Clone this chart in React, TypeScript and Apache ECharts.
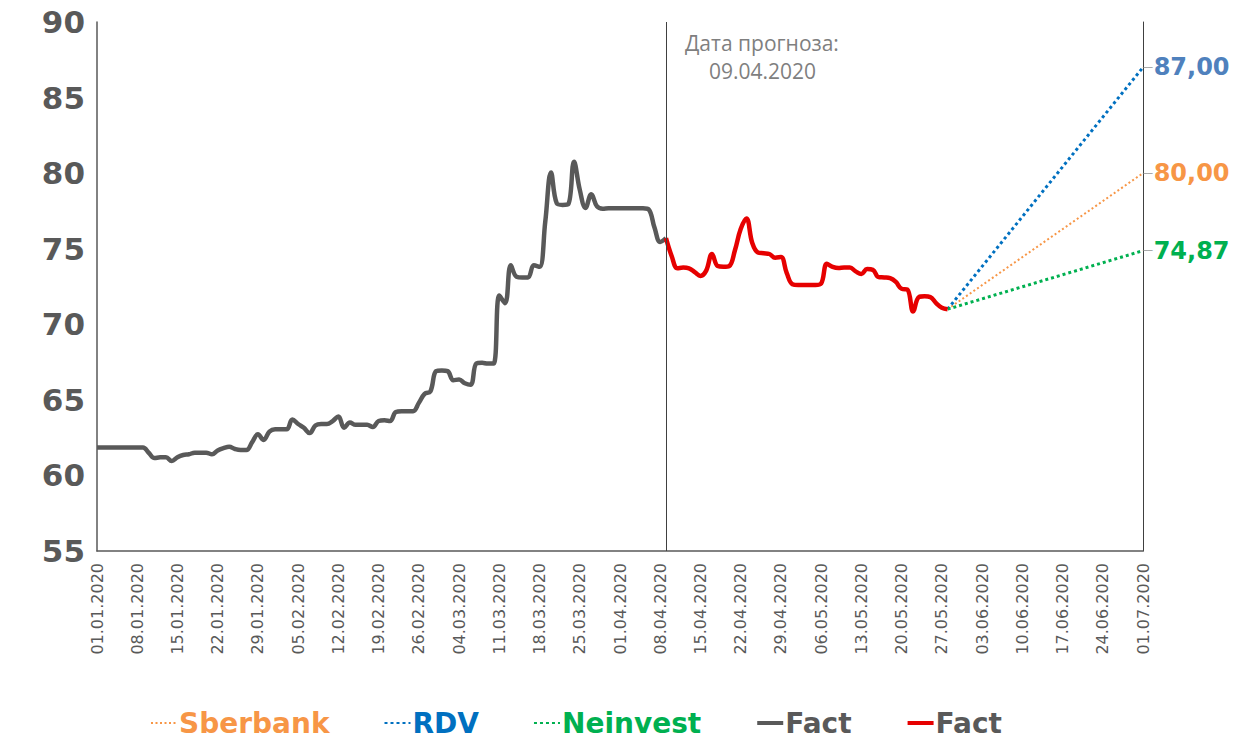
import React, { useEffect, useRef } from 'react';
import * as echarts from 'echarts';

// ---- categories: every day from 01.01.2020 to 01.07.2020 ----
const START_YEAR = 2020;
const DAY_COUNT = 183;
const dates: string[] = [];
for (let i = 0; i < DAY_COUNT; i++) {
  const d = new Date(Date.UTC(START_YEAR, 0, 1 + i));
  const dd = String(d.getUTCDate()).padStart(2, '0');
  const mm = String(d.getUTCMonth() + 1).padStart(2, '0');
  dates.push(`${dd}.${mm}.${d.getUTCFullYear()}`);
}

// ---- fact before forecast date (01.01 .. 09.04), one value per day ----
const factBefore: number[] = [
  61.85, 61.85, 61.85, 61.85, 61.85, 61.85, 61.85, 61.85, 61.85, 61.5,
  61.15, 61.2, 61.2, 60.95, 61.2, 61.35, 61.4, 61.5, 61.5, 61.5,
  61.4, 61.65, 61.8, 61.9, 61.75, 61.68, 61.68, 62.2, 62.72, 62.35,
  62.9, 63.05, 63.05, 63.05, 63.7, 63.4, 63.15, 62.8, 63.3, 63.4,
  63.4, 63.6, 63.9, 63.15, 63.5, 63.35, 63.35, 63.35, 63.2, 63.6,
  63.65, 63.6, 64.2, 64.25, 64.25, 64.25, 64.8, 65.4, 65.55, 66.9,
  66.95, 66.9, 66.3, 66.35, 66.1, 66.0, 67.4, 67.45, 67.4, 67.4,
  71.9, 71.4, 73.9, 73.15, 73.1, 73.1, 73.9, 73.8, 76.8, 80.05,
  78.0, 77.9, 77.95, 80.75, 78.9, 77.7, 78.6, 77.8, 77.65, 77.68,
  77.68, 77.68, 77.68, 77.68, 77.68, 77.68, 77.6, 76.4, 75.45, 75.7,
];

// ---- fact after forecast date (09.04 .. 28.05) ----
const FACT_AFTER_START = 99;
const factAfter: number[] = [
  75.7, 74.5, 73.7, 73.75, 73.7, 73.45, 73.2, 73.55, 74.65, 73.85,
  73.8, 73.85, 74.9, 76.3, 77.0, 75.4, 74.75, 74.7, 74.65, 74.4,
  74.45, 73.4, 72.65, 72.6, 72.6, 72.6, 72.6, 72.7, 74.0, 73.8,
  73.72, 73.75, 73.75, 73.5, 73.33, 73.65, 73.6, 73.12, 73.1, 73.05,
  72.8, 72.35, 72.3, 70.85, 71.8, 71.85, 71.8, 71.4, 71.1, 71.0,
];

// ---- forecasts: [start value, target value] ----
const FORECAST_START = 148;
const FORECAST_END = 182;
const sberbank: number[] = [71.0, 80.0];
const rdv: number[] = [71.0, 87.0];
const neinvest: number[] = [71.0, 74.87];

const FORECAST_DATE = '09.04.2020';
const yTicks = { min: 55, max: 90, interval: 5 };

const GRAY = '#595959';
const RED = '#E60000';
const ORANGE = '#F79646';
const BLUE = '#0070C0';
const GREEN = '#00B050';
const BLUE_LABEL = '#4F81BD';

function padded(values: number[], start: number): (number | null)[] {
  const arr: (number | null)[] = new Array(DAY_COUNT).fill(null);
  values.forEach((v, i) => (arr[start + i] = v));
  return arr;
}

function forecastData(vals: number[]): (number | null)[] {
  const arr: (number | null)[] = new Array(DAY_COUNT).fill(null);
  arr[FORECAST_START] = vals[0];
  arr[FORECAST_END] = vals[1];
  return arr;
}

function endLabel(vals: number[], color: string) {
  return {
    show: true,
    distance: 0,
    formatter: () => `{d|──}{v|${vals[1].toFixed(2).replace('.', ',')}}`,
    rich: {
      d: { color: '#8c8c8c', fontSize: 8, fontFamily: 'DejaVu Sans', padding: [0, 1, 0, 0] },
      v: { color, fontSize: 24, fontWeight: 'bold', fontFamily: 'DejaVu Sans' },
    },
  };
}

export default function App() {
  const ref = useRef<HTMLDivElement>(null);
  useEffect(() => {
    if (!ref.current) return;
    const chart = echarts.init(ref.current, undefined, { renderer: 'svg' });
    const lineSeries = (name: string, data: any[], color: string, width: number, type: any, smooth: any) => ({
      name,
      type: 'line',
      data,
      symbol: 'none',
      showSymbol: false,
      smooth,
      connectNulls: true,
      lineStyle: { color, width, type },
      itemStyle: { color },
      z: 3,
    });
    chart.setOption({
      animation: false,
      backgroundColor: '#ffffff',
      grid: { left: 97, right: 96, top: 22, bottom: 201 },
      legend: {
        left: 145,
        top: 704,
        itemWidth: 26,
        itemHeight: 14,
        itemGap: 54,
        itemStyle: { opacity: 0 },
        textStyle: { fontFamily: 'DejaVu Sans', fontWeight: 'bold', fontSize: 28, color: GRAY, padding: [0, 0, 0, -3] },
        formatter: (n: string) => (n.startsWith('Fact') ? 'Fact' : n),
        data: [
          { name: 'Sberbank', textStyle: { color: ORANGE } },
          { name: 'RDV', textStyle: { color: BLUE } },
          { name: 'Neinvest', textStyle: { color: GREEN } },
          { name: 'Fact', textStyle: { color: GRAY }, lineStyle: { width: 4 } },
          { name: 'Fact2', textStyle: { color: GRAY }, lineStyle: { width: 4 } },
        ],
      },
      xAxis: {
        type: 'category',
        data: dates,
        boundaryGap: false,
        axisLine: { show: true, lineStyle: { color: GRAY, width: 1.5 } },
        axisTick: { show: false },
        axisLabel: {
          interval: 6,
          rotate: 90,
          margin: 12,
          color: GRAY,
          fontSize: 16,
          fontFamily: 'DejaVu Sans',
        },
        splitLine: { show: false },
      },
      yAxis: [
        {
          type: 'value',
          min: yTicks.min,
          max: yTicks.max,
          interval: yTicks.interval,
          axisLine: { show: true, lineStyle: { color: GRAY, width: 1.5 } },
          axisTick: { show: false },
          splitLine: { show: false },
          axisLabel: { color: GRAY, fontSize: 31, fontWeight: 'bold', fontFamily: 'DejaVu Sans', margin: 12 },
        },
        {
          type: 'value',
          position: 'right',
          min: yTicks.min,
          max: yTicks.max,
          interval: yTicks.interval,
          axisLine: { show: true, lineStyle: { color: '#404040', width: 1 } },
          axisTick: { show: false },
          axisLabel: { show: false },
          splitLine: { show: false },
        },
      ],
      graphic: [
        {
          type: 'text',
          left: 685,
          top: 32,
          style: { text: 'Дата прогноза:', fill: '#7f7f7f', font: '21px "Open Sans"' },
        },
        {
          type: 'text',
          left: 709,
          top: 60,
          style: { text: FORECAST_DATE, fill: '#7f7f7f', font: '21px "Open Sans"' },
        },
      ],
      series: [
        {
          ...lineSeries('Sberbank', forecastData(sberbank), ORANGE, 2, [2, 2.5], false),
          endLabel: endLabel(sberbank, ORANGE),
          z: 2,
        },
        {
          ...lineSeries('RDV', forecastData(rdv), BLUE, 3, [3, 3], false),
          endLabel: endLabel(rdv, BLUE_LABEL),
          z: 2,
        },
        {
          ...lineSeries('Neinvest', forecastData(neinvest), GREEN, 3, [3, 3], false),
          endLabel: endLabel(neinvest, GREEN),
          z: 2,
        },
        {
          ...lineSeries('Fact', padded(factBefore, 0), GRAY, 4.5, 'solid', 0.4),
          markLine: {
            silent: true,
            symbol: 'none',
            label: { show: false },
            lineStyle: { color: '#404040', width: 1, type: 'solid' },
            data: [{ xAxis: FORECAST_DATE }],
          },
        },
        lineSeries('Fact2', padded(factAfter, FACT_AFTER_START), RED, 4.5, 'solid', 0.4),
      ],
    });
    return () => chart.dispose();
  }, []);
  return (
    <div
      ref={ref}
      style={{ position: 'fixed', left: 0, top: 0, width: 1239, height: 752, background: '#fff' }}
    />
  );
}
